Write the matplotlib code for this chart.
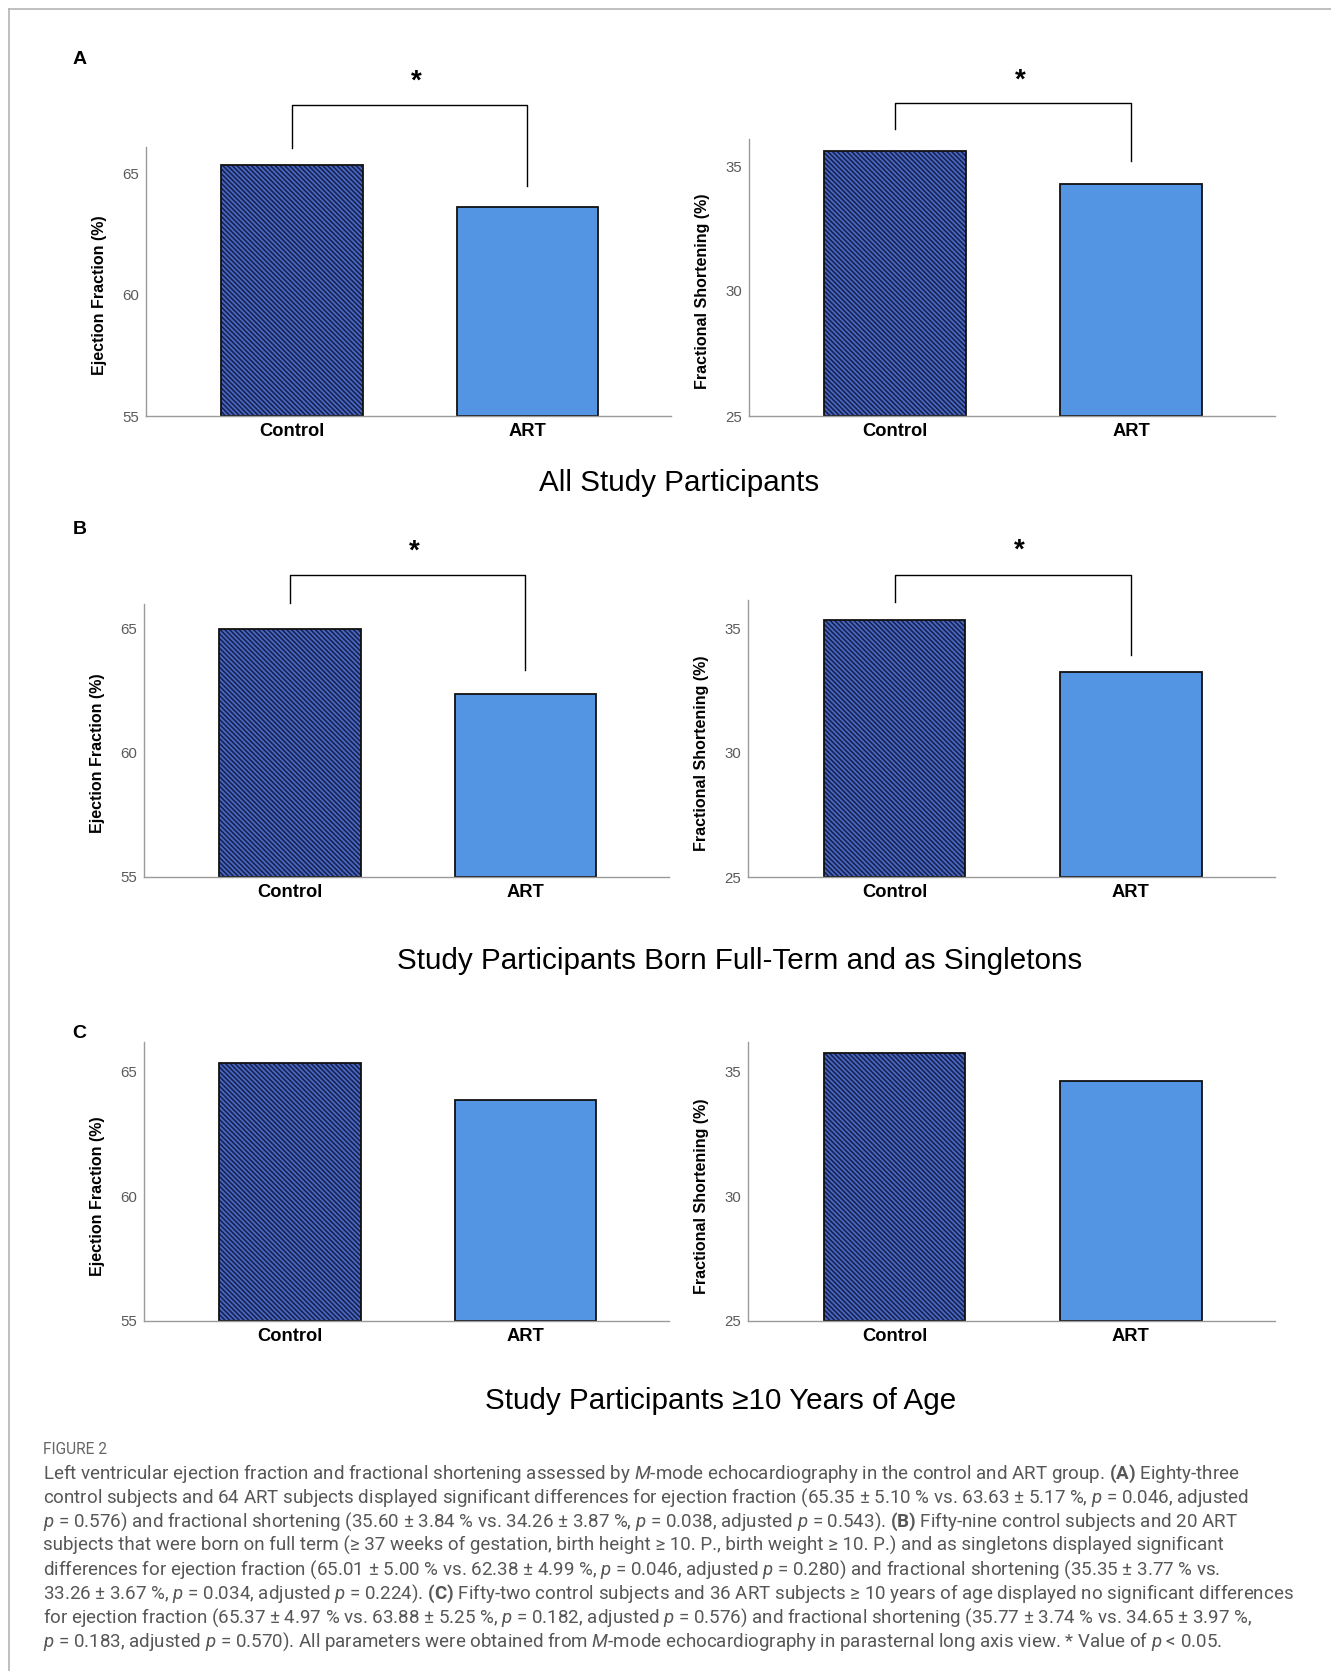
import matplotlib
matplotlib.use("Agg")
import matplotlib.pyplot as plt
from matplotlib.lines import Line2D
from matplotlib.transforms import blended_transform_factory

W, H = 1331, 1671

groups = ["Control", "ART"]
ef_all = [65.35, 63.63]
fs_all = [35.60, 34.26]
ef_term = [65.01, 62.38]
fs_term = [35.35, 33.26]
ef_age = [65.37, 63.88]
fs_age = [35.77, 34.65]

ef_ticks = [55, 60, 65]
fs_ticks = [25, 30, 35]

row_titles = ["All Study Participants",
              "Study Participants Born Full-Term and as Singletons",
              "Study Participants \u226510 Years of Age"]
panel_letters = ["A", "B", "C"]

caption = [
    r"Left ventricular ejection fraction and fractional shortening assessed by $M$-mode echocardiography in the control and ART group. $\mathbf{(A)}$ Eighty-three",
    r"control subjects and 64 ART subjects displayed significant differences for ejection fraction (65.35 ± 5.10 % vs. 63.63 ± 5.17 %, $p$ = 0.046, adjusted",
    r"$p$ = 0.576) and fractional shortening (35.60 ± 3.84 % vs. 34.26 ± 3.87 %, $p$ = 0.038, adjusted $p$ = 0.543). $\mathbf{(B)}$ Fifty-nine control subjects and 20 ART",
    "subjects that were born on full term (≥ 37 weeks of gestation, birth height ≥ 10. P., birth weight ≥ 10. P.) and as singletons displayed significant",
    r"differences for ejection fraction (65.01 ± 5.00 % vs. 62.38 ± 4.99 %, $p$ = 0.046, adjusted $p$ = 0.280) and fractional shortening (35.35 ± 3.77 % vs.",
    r"33.26 ± 3.67 %, $p$ = 0.034, adjusted $p$ = 0.224). $\mathbf{(C)}$ Fifty-two control subjects and 36 ART subjects ≥ 10 years of age displayed no significant differences",
    r"for ejection fraction (65.37 ± 4.97 % vs. 63.88 ± 5.25 %, $p$ = 0.182, adjusted $p$ = 0.576) and fractional shortening (35.77 ± 3.74 % vs. 34.65 ± 3.97 %,",
    r"$p$ = 0.183, adjusted $p$ = 0.570). All parameters were obtained from $M$-mode echocardiography in parasternal long axis view. * Value of $p$ < 0.05.",
]

plt.rcParams["font.family"] = ["Liberation Sans", "DejaVu Sans"]
plt.rcParams["mathtext.fontset"] = "custom"
plt.rcParams["mathtext.rm"] = "Roboto"
plt.rcParams["mathtext.it"] = "Roboto:italic"
plt.rcParams["mathtext.bf"] = "Roboto:bold"
plt.rcParams["hatch.linewidth"] = 1.1

CTRL_FACE = "#4866c2"
CTRL_HATCH = "#15204a"
ART_FACE = "#5394e3"
AXIS_GREY = "#9a9a9a"


def px_axes(fig, x0, y0, x1, y1):
    return fig.add_axes([x0 / W, 1 - y1 / H, (x1 - x0) / W, (y1 - y0) / H])


def bar_panel(ax, values, ylim, ticks, ylabel, bracket=None):
    x = [0, 1]
    ax.bar(x[0], values[0] - ylim[0], bottom=ylim[0], width=0.6,
           color=CTRL_FACE, edgecolor=CTRL_HATCH, hatch="\\" * 7, linewidth=0)
    ax.bar(x[1], values[1] - ylim[0], bottom=ylim[0], width=0.6,
           color=ART_FACE, linewidth=0)
    ax.bar(x, [v - ylim[0] for v in values], bottom=ylim[0], width=0.6,
           fill=False, edgecolor="#111111", linewidth=1.3)
    ax.set_xlim(-0.62, 1.61)
    ax.set_ylim(*ylim)
    ax.set_yticks(ticks)
    ax.set_xticks(x)
    ax.set_xticklabels(groups, fontsize=13.2, fontweight="bold", color="black")
    ax.tick_params(axis="both", length=0)
    ax.tick_params(axis="y", labelsize=10.8, labelcolor="#5a5a5a", pad=5)
    ax.tick_params(axis="x", pad=5)
    for s in ["top", "right"]:
        ax.spines[s].set_visible(False)
    for s in ["left", "bottom"]:
        ax.spines[s].set_color(AXIS_GREY)
        ax.spines[s].set_linewidth(1.0)
    tr = blended_transform_factory(ax.transAxes, ax.transData)
    ax.text(-0.088, ticks[1], ylabel, transform=tr, rotation=90,
            ha="center", va="center", fontsize=11.5, fontweight="bold")
    if bracket is not None:
        top, left_end, right_end, star_y = bracket
        ax.plot([x[0], x[0], x[1], x[1]], [left_end, top, top, right_end],
                color="black", lw=1.0, clip_on=False)
        ax.text(0.53, star_y, "*", ha="center", va="center",
                fontsize=20, fontweight="bold", clip_on=False)


fig = plt.figure(figsize=(W / 100, H / 100), dpi=100)

# frame lines
fig.add_artist(Line2D([9 / W, 9 / W], [0, 1 - 9 / H], transform=fig.transFigure,
                      color="#b4b4b4", lw=1.2))
fig.add_artist(Line2D([9 / W, 1], [1 - 9 / H, 1 - 9 / H], transform=fig.transFigure,
                      color="#b4b4b4", lw=1.2))

# row A
ax = px_axes(fig, 146, 147, 671, 416)
bar_panel(ax, ef_all, (55, 66.1), ef_ticks, "Ejection Fraction (%)",
          bracket=(67.83, 66.07, 64.48, 68.8))
ax = px_axes(fig, 749, 139, 1275, 416)
bar_panel(ax, fs_all, (25, 36.08), fs_ticks, "Fractional Shortening (%)",
          bracket=(37.5, 36.48, 35.2, 38.42))

# row B
ax = px_axes(fig, 144, 604, 669, 877)
bar_panel(ax, ef_term, (55, 66.0), ef_ticks, "Ejection Fraction (%)",
          bracket=(67.16, 66.05, 63.35, 68.12))
ax = px_axes(fig, 748, 600, 1275, 877)
bar_panel(ax, fs_term, (25, 36.15), fs_ticks, "Fractional Shortening (%)",
          bracket=(37.16, 36.05, 33.93, 38.12))

# row C
ax = px_axes(fig, 144, 1042, 669, 1321)
bar_panel(ax, ef_age, (55, 66.2), ef_ticks, "Ejection Fraction (%)")
ax = px_axes(fig, 748, 1042, 1275, 1321)
bar_panel(ax, fs_age, (25, 36.2), fs_ticks, "Fractional Shortening (%)")

# row titles and panel letters
title_pos = [(679, 483), (740, 961), (721, 1401)]
for (tx, ty), t in zip(title_pos, row_titles):
    fig.text(tx / W, 1 - ty / H, t, ha="center", va="center", fontsize=21.3)
letter_pos = [(80, 60), (80, 529), (79, 1034)]
for (lx, ly), t in zip(letter_pos, panel_letters):
    fig.text(lx / W, 1 - ly / H, t, ha="center", va="center",
             fontsize=14, fontweight="bold")

# caption
fig.text(43 / W, 1 - 1449 / H, "FIGURE 2", ha="left", va="center",
         fontsize=11.2, color="#666666", family=["Roboto", "DejaVu Sans"])
for i, line in enumerate(caption):
    y = 1479 + i * 23.9
    fig.text(43 / W, 1 - y / H, line, ha="left", va="baseline",
             fontsize=13.5, color="#575757",
             family=["Roboto", "DejaVu Sans"])

fig.savefig("out.png", dpi=100)
